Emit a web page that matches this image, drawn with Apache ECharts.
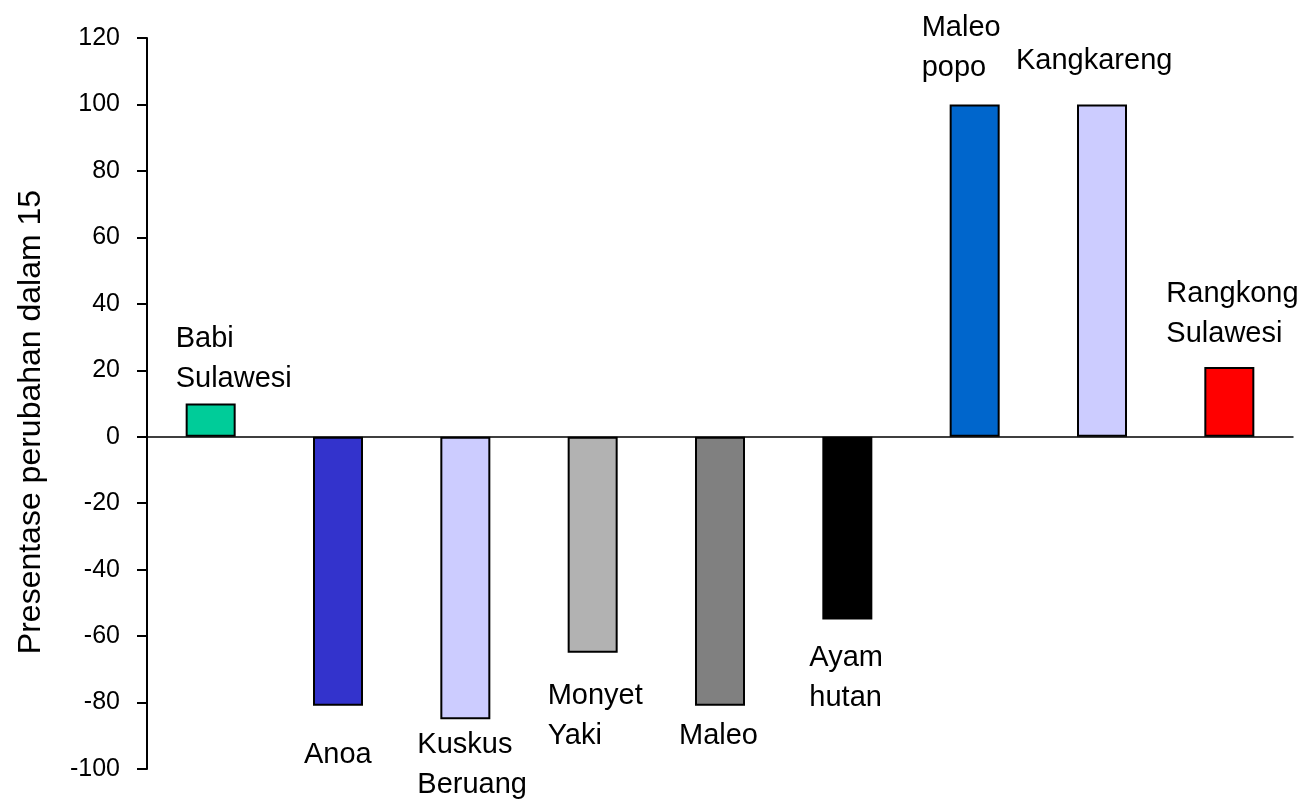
<!DOCTYPE html>
<html>
<head>
<meta charset="utf-8">
<script src="https://cdn.jsdelivr.net/npm/echarts@6/dist/echarts.min.js"></script>
<style>
html,body{margin:0;padding:0;background:#fff;}
#chart{width:1308px;height:802px;}
</style>
</head>
<body>
<div id="chart"></div>
<script>
var categories = ['Babi\nSulawesi', 'Anoa', 'Kuskus\nBeruang', 'Monyet\nYaki', 'Maleo', 'Ayam\nhutan', 'Maleo\npopo', 'Kangkareng', 'Rangkong\nSulawesi'];
var values = [10, -81, -85, -65, -81, -55, 100, 100, 21];
var barColors = ['#00CC99', '#3333CC', '#CCCCFF', '#B2B2B2', '#808080', '#000000', '#0066CC', '#CCCCFF', '#FF0000'];
var yTicks = [-100, -80, -60, -40, -20, 0, 20, 40, 60, 80, 100, 120];
var axisTitle = 'Presentase perubahan dalam 15';

// label offsets (px) relative to bar end: layout only
var labelOffsets = [[-35, -85], [-34, 29], [-48, 6], [-45, 23], [-41, 10], [-38, 19], [-53, -96], [-86, -63], [-63, -93]];

var sans = '"Liberation Sans", Arial, sans-serif';

var chart = echarts.init(document.getElementById('chart'));
chart.setOption({
  animation: false,
  backgroundColor: '#fff',
  grid: {left: 147, right: 15, top: 38, bottom: 33, containLabel: false},
  xAxis: {
    type: 'category',
    data: categories,
    axisLine: {onZero: true, lineStyle: {color: '#000', width: 1.5}},
    axisTick: {show: false},
    axisLabel: {show: false},
    splitLine: {show: false}
  },
  yAxis: {
    type: 'value',
    min: yTicks[0],
    max: yTicks[yTicks.length - 1],
    interval: 20,
    axisLine: {show: true, lineStyle: {color: '#000', width: 2}},
    axisTick: {show: true, length: 10, lineStyle: {color: '#000', width: 2}},
    axisLabel: {margin: 27, color: '#000', fontSize: 25, fontFamily: sans},
    splitLine: {show: false}
  },
  graphic: [{
    type: 'text',
    x: 31, y: 422,
    rotation: Math.PI / 2,
    style: {
      text: axisTitle,
      font: '32px "Liberation Sans", Arial, sans-serif',
      fill: '#000',
      textAlign: 'center',
      textVerticalAlign: 'middle'
    }
  }],
  series: [{
    type: 'bar',
    barWidth: 50,
    data: values.map(function (v, i) {
      return {value: v, itemStyle: {color: barColors[i], borderColor: '#000', borderWidth: 2}};
    }),
    z: 2
  }, {
    type: 'scatter',
    symbolSize: 0,
    silent: true,
    itemStyle: {opacity: 1},
    data: values.map(function (v, i) {
      return {
        value: [i, v],
        label: {
          show: true,
          position: [0, 0],
          offset: labelOffsets[i],
          align: 'left',
          verticalAlign: 'top',
          formatter: categories[i],
          fontSize: 29,
          lineHeight: 40,
          fontFamily: sans,
          color: '#000',
          opacity: 1
        }
      };
    }),
    z: 3
  }]
});
</script>
</body>
</html>
